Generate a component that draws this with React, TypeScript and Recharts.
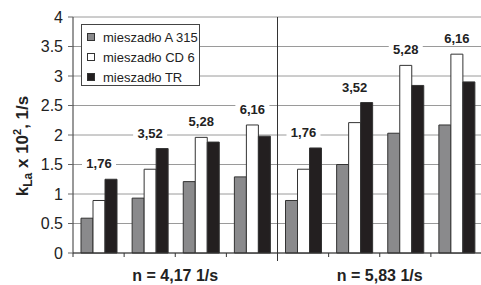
import React from "react";
import {
    Bar,
    BarChart,
    CartesianGrid,
    LabelList,
    Legend,
    XAxis,
    YAxis,
} from "recharts";

// speeds of rotation (group labels) and the 4 sub-categories under each
const groups = ["n = 4,17 1/s", "n = 5,83 1/s"];
const categories = ["1,76", "3,52", "5,28", "6,16", "1,76", "3,52", "5,28", "6,16"];

// kLa x 10^2 [1/s] for each mixer
const a315 = [0.59, 0.93, 1.21, 1.29, 0.89, 1.5, 2.03, 2.17];
const cd6 = [0.89, 1.42, 1.96, 2.17, 1.42, 2.21, 3.18, 3.37];
const tr = [1.25, 1.77, 1.88, 1.98, 1.78, 2.55, 2.84, 2.9];

const yTicks = [0, 0.5, 1, 1.5, 2, 2.5, 3, 3.5, 4];

const series = [
    { key: "a315", name: "mieszadło A 315", fill: "#8a8a8c" },
    { key: "cd6", name: "mieszadło CD 6", fill: "#ffffff" },
    { key: "tr", name: "mieszadło TR", fill: "#231f20" },
];

const data = categories.map((c, i) => ({
    label: c,
    a315: a315[i],
    cd6: cd6[i],
    tr: tr[i],
}));

const W = 482;
const H = 285;
const TOP = 17;
const Y_AXIS_W = 73;
const X_AXIS_H = 32;
const BAND = (W - Y_AXIS_W) / categories.length;
const PER_GROUP = categories.length / groups.length;

const XTick = (props: any) => {
    const { x, y, payload } = props;
    const i = payload.index;
    const left = x - BAND / 2;
    const isDivider = i > 0 && i % PER_GROUP === 0;
    return (
        <g>
            <line x1={left} x2={left} y1={y} y2={y + (isDivider ? 8 : 4)} stroke="#333" />
            {isDivider && <line x1={left} x2={left} y1={y} y2={TOP} stroke="#333" />}
            {i % PER_GROUP === PER_GROUP / 2 - 1 && (
                <text
                    x={x + BAND / 2}
                    y={y + 28}
                    textAnchor="middle"
                    fontSize={16}
                    fontWeight="bold"
                    fill="#222"
                >
                    {groups[Math.floor(i / PER_GROUP)]}
                </text>
            )}
        </g>
    );
};

// label above the highest bar of each sub-category, on a white patch
const TopLabel = (props: any) => {
    const { x, y, width, height, value, index } = props;
    const max = Math.max(a315[index], cd6[index], tr[index]);
    const perUnit = height / value;
    const top = y + height - max * perUnit;
    const cx = x + width / 2;
    const cy = top - 16;
    return (
        <g>
            <rect x={cx - 17} y={cy - 7} width={34} height={14} fill="#fff" />
            <text x={cx} y={cy + 5} textAnchor="middle" fontSize={13} fontWeight="bold" fill="#222">
                {categories[index]}
            </text>
        </g>
    );
};

const YTitle = () => (
    <text
        transform="translate(28, 146) rotate(-90)"
        textAnchor="middle"
        fontSize={17}
        fontWeight="bold"
        fill="#222"
    >
        <tspan>k</tspan>
        <tspan fontSize={12} dy={4}>La</tspan>
        <tspan dy={-4}> x 10</tspan>
        <tspan fontSize={11} dy={-7}>2</tspan>
        <tspan dy={7}>, 1/s</tspan>
    </text>
);

const LegendBox = () => (
    <div
        style={{
            border: "1px solid #444",
            background: "#fff",
            width: 117,
            height: 58,
            padding: "2px 0 0 0",
            boxSizing: "content-box",
        }}
    >
        {series.map((s) => (
            <div key={s.key} style={{ display: "flex", alignItems: "center", height: 20, fontSize: 13, color: "#222" }}>
                <span
                    style={{
                        display: "inline-block",
                        width: 6,
                        height: 6,
                        marginLeft: 5,
                        marginRight: 8,
                        background: s.fill,
                        border: "1px solid #333",
                    }}
                />
                {s.name}
            </div>
        ))}
    </div>
);

export default function App() {
    return (
        <div
            style={{
                position: "absolute",
                left: 0,
                top: 0,
                width: 481,
                height: H,
                overflow: "hidden",
                background: "#fff",
                fontFamily: "Arial, 'Liberation Sans', sans-serif",
            }}
        >
            <BarChart
                width={W}
                height={H}
                data={data}
                margin={{ top: TOP, right: 0, left: 0, bottom: 0 }}
                barCategoryGap={8}
                barGap={0}
            >
                <CartesianGrid vertical={false} stroke="#9a9a9a" />
                <XAxis
                    dataKey="label"
                    height={X_AXIS_H}
                    interval={0}
                    tickLine={false}
                    tickSize={0}
                    tickMargin={0}
                    tick={<XTick />}
                    axisLine={{ stroke: "#333" }}
                />
                <YAxis
                    width={Y_AXIS_W}
                    domain={[0, 4]}
                    ticks={yTicks}
                    interval={0}
                    tickSize={5}
                    tickMargin={5}
                    tick={{ fontSize: 16, fill: "#222" }}
                    tickLine={{ stroke: "#666" }}
                    axisLine={{ stroke: "#333" }}
                    label={{ content: <YTitle /> }}
                />
                <Legend
                    content={<LegendBox />}
                    layout="vertical"
                    verticalAlign="middle"
                    align="center"
                    wrapperStyle={{ left: 81, top: 24, width: "auto", height: "auto" }}
                />
                {series.map((s) => (
                    <Bar
                        key={s.key}
                        dataKey={s.key}
                        name={s.name}
                        fill={s.fill}
                        stroke="#333"
                        strokeWidth={1}
                        isAnimationActive={false}
                    >
                        {s.key === "cd6" && <LabelList dataKey="cd6" content={<TopLabel />} />}
                    </Bar>
                ))}
            </BarChart>
        </div>
    );
}
